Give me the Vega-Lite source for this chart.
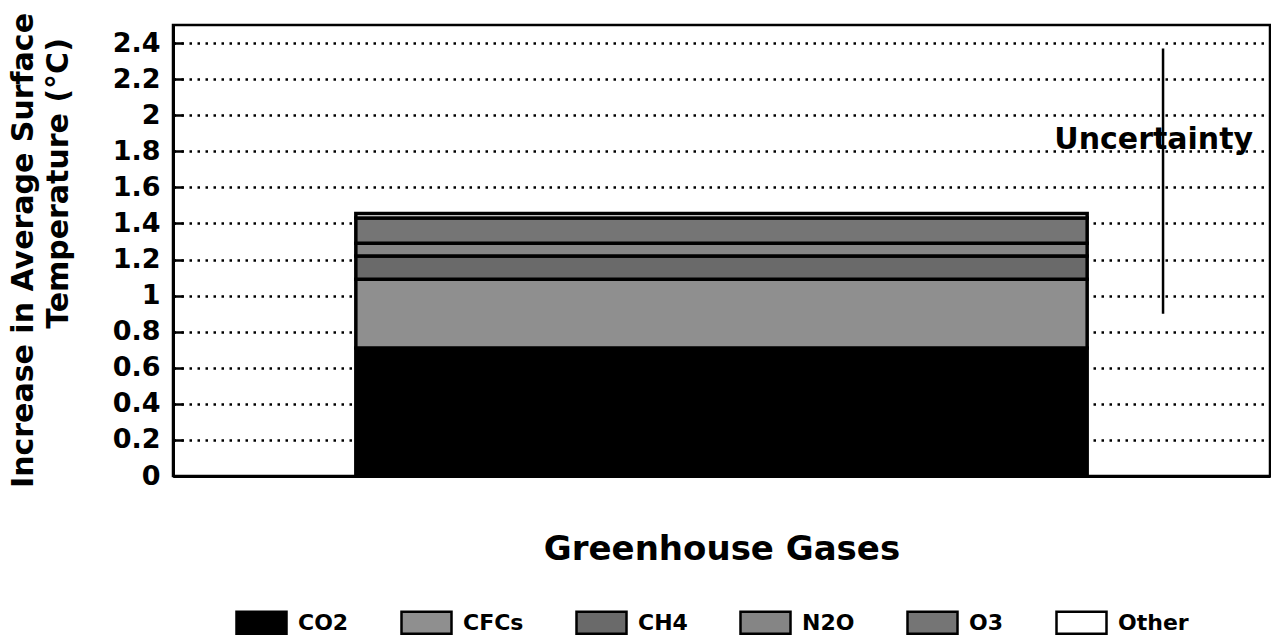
{
  "$schema": "https://vega.github.io/schema/vega-lite/v6.json",
  "width": 1097,
  "height": 451,
  "autosize": {"type": "none"},
  "padding": {"left": 173, "top": 25, "right": 1, "bottom": 165},
  "background": "white",
  "title": {
    "text": "Increase in Average Surface",
    "orient": "left",
    "anchor": "middle",
    "font": "DejaVu Sans",
    "fontSize": 30,
    "fontWeight": "bold",
    "color": "black",
    "offset": 4
  },
  "config": {
    "view": {"stroke": "black", "strokeWidth": 2.5},
    "font": "DejaVu Sans"
  },
  "layer": [
    {
      "data": {
        "values": [
          {"group": "Greenhouse Gases", "gas": "CO2", "value": 0.71, "order": 1},
          {"group": "Greenhouse Gases", "gas": "CFCs", "value": 0.38, "order": 2},
          {"group": "Greenhouse Gases", "gas": "CH4", "value": 0.13, "order": 3},
          {"group": "Greenhouse Gases", "gas": "N2O", "value": 0.07, "order": 4},
          {"group": "Greenhouse Gases", "gas": "O3", "value": 0.14, "order": 5},
          {"group": "Greenhouse Gases", "gas": "Other", "value": 0.025, "order": 6}
        ]
      },
      "mark": {"type": "bar", "stroke": "black", "strokeWidth": 3.5},
      "encoding": {
        "x": {
          "field": "group",
          "type": "nominal",
          "scale": {"paddingInner": 0, "paddingOuter": 0.25},
          "axis": {
            "labels": false,
            "ticks": false,
            "grid": false,
            "domain": true,
            "domainColor": "black",
            "domainWidth": 3,
            "title": "Greenhouse Gases",
            "titleFont": "DejaVu Sans",
            "titleFontSize": 34,
            "titleFontWeight": "bold",
            "titleColor": "black",
            "titlePadding": 56
          }
        },
        "y": {
          "field": "value",
          "type": "quantitative",
          "stack": "zero",
          "scale": {"domain": [0, 2.5], "nice": false},
          "axis": {
            "values": [0, 0.2, 0.4, 0.6, 0.8, 1, 1.2, 1.4, 1.6, 1.8, 2, 2.2, 2.4],
            "tickCount": 30,
            "format": ".1~f",
            "labelOverlap": false,
            "labelFont": "DejaVu Sans",
            "labelFontWeight": "bold",
            "labelFontSize": 27,
            "labelColor": "black",
            "labelPadding": 23,
            "tickSize": -10,
            "tickColor": "black",
            "tickWidth": 2.5,
            "domainColor": "black",
            "domainWidth": 3,
            "grid": true,
            "gridColor": "black",
            "gridDash": [2.5, 5.5],
            "gridWidth": 2.5,
            "title": "Temperature (°C)",
            "titleFont": "DejaVu Sans",
            "titleFontSize": 30,
            "titleFontWeight": "bold",
            "titleColor": "black",
            "titleAngle": -90,
            "titleAlign": "center",
            "titleBaseline": "bottom",
            "titleX": -100,
            "titleY": 158
          }
        },
        "color": {
          "field": "gas",
          "type": "nominal",
          "scale": {
            "domain": ["CO2", "CFCs", "CH4", "N2O", "O3", "Other"],
            "range": ["#000000", "#8f8f8f", "#6a6a6a", "#858585", "#757575", "#ffffff"]
          },
          "legend": {
            "orient": "none",
            "legendX": 62,
            "legendY": 571,
            "direction": "horizontal",
            "title": null,
            "symbolType": "M-1,-0.44H1V0.44H-1Z",
            "symbolSize": 2500,
            "symbolStrokeColor": "black",
            "symbolStrokeWidth": 2.5,
            "symbolOpacity": 1,
            "labelFont": "DejaVu Sans",
            "labelFontSize": 22,
            "labelFontWeight": "bold",
            "labelColor": "black",
            "labelOffset": 10,
            "columnPadding": 47
          }
        },
        "order": {"field": "order", "type": "quantitative"}
      }
    },
    {
      "data": {"values": [{"pos": 0.9025, "low": 0.9, "high": 2.37}]},
      "mark": {"type": "rule", "stroke": "black", "strokeWidth": 2.5},
      "encoding": {
        "x": {"field": "pos", "type": "quantitative", "scale": {"domain": [0, 1]}, "axis": null},
        "y": {"field": "low", "type": "quantitative"},
        "y2": {"field": "high"}
      }
    },
    {
      "data": {"values": [{"pos": 0.894, "y": 1.8, "label": "Uncertainty"}]},
      "mark": {"type": "text", "font": "DejaVu Sans", "fontSize": 30, "fontWeight": "bold", "color": "black", "align": "center", "baseline": "alphabetic", "dy": -2},
      "encoding": {
        "x": {"field": "pos", "type": "quantitative", "scale": {"domain": [0, 1]}, "axis": null},
        "y": {"field": "y", "type": "quantitative"},
        "text": {"field": "label"}
      }
    }
  ],
  "resolve": {"scale": {"x": "independent"}}
}
